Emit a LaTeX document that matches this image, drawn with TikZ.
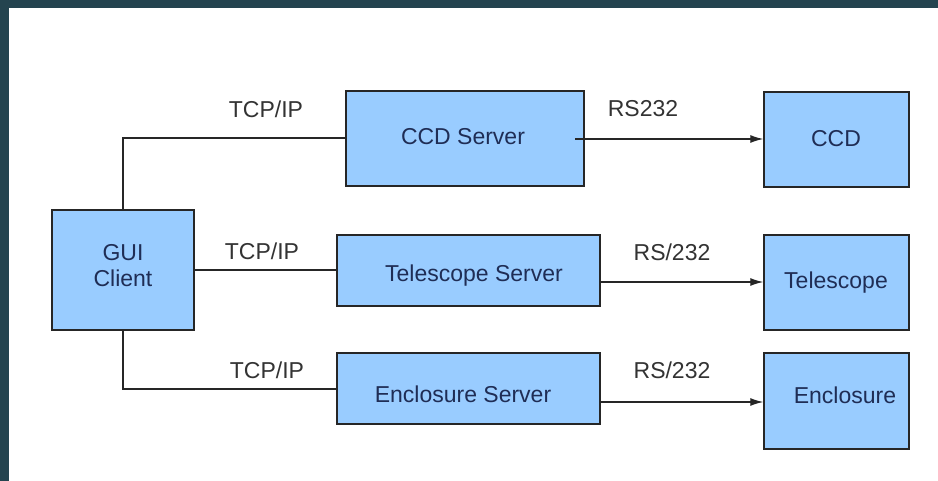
\documentclass[tikz,border=0pt]{standalone}
\usepackage{fontspec}
\setmainfont{Liberation Sans}
\usetikzlibrary{arrows.meta}
\definecolor{frame}{HTML}{24444F}
\definecolor{boxfill}{HTML}{99CCFF}
\definecolor{boxtext}{HTML}{1F2D55}
\definecolor{labtext}{HTML}{333333}
\begin{document}
\begin{tikzpicture}[x=1pt,y=-1pt,
  box/.style={draw=black!85,line width=1.4pt,fill=boxfill,inner sep=0pt},
  boxlabel/.style={text=boxtext,font=\fontsize{23}{26}\selectfont,inner sep=0pt,align=center},
  linklabel/.style={text=labtext,font=\fontsize{23}{26}\selectfont,inner sep=0pt},
  wire/.style={line width=1.3pt,draw=black!85},
  arrowwire/.style={wire,-{Latex[length=13pt,width=8pt]}}]
\useasboundingbox (0,0) rectangle (938,481);
\fill[white] (0,0) rectangle (938,481);
\fill[frame] (0,0) rectangle (938,8);
\fill[frame] (0,0) rectangle (9,481);
% boxes
\node[box,minimum width=142pt,minimum height=120pt] (gui) at (123,270) {};
\node[box,minimum width=238pt,minimum height=95pt] (ccds) at (465,138.5) {};
\node[box,minimum width=263pt,minimum height=71pt] (tels) at (468.5,270.5) {};
\node[box,minimum width=263pt,minimum height=71pt] (encs) at (468.5,388.5) {};
\node[box,minimum width=145pt,minimum height=95pt] (ccd) at (836.5,139.5) {};
\node[box,minimum width=145pt,minimum height=95pt] (tel) at (836.5,282.5) {};
\node[box,minimum width=145pt,minimum height=96pt] (enc) at (836.5,401) {};
% box texts
\node[boxlabel] (guit) at (123,266) {GUI\\Client};
\node[boxlabel] (ccdst) at (463,137) {CCD Server};
\node[boxlabel] (telst) at (474,276) {Telescope Server};
\node[boxlabel] (encst) at (463,394) {Enclosure Server};
\node[boxlabel] (ccdt) at (836,139) {CCD};
\node[boxlabel] (telt) at (836,283) {Telescope};
\node[boxlabel] (enct) at (845,395) {Enclosure};
% connectors
\coordinate (c1) at (123,138);
\coordinate (c2) at (123,389);
\draw[wire] (gui.north -| c1) -- (c1) -- (c1 -| ccds.west);
\draw[wire] (gui.east |- 0,270) -- (tels.west |- 0,270);
\draw[wire] (gui.south -| c2) -- (c2) -- (c2 -| encs.west);
\coordinate (a1) at (575,139);
\draw[arrowwire] (a1) -- (a1 -| ccd.west);
\draw[arrowwire] (tels.east |- 0,282) -- (tel.west |- 0,282);
\draw[arrowwire] (encs.east |- 0,402) -- (enc.west |- 0,402);
% link labels
\node[linklabel] (l1) at (266,109) {TCP/IP};
\node[linklabel] (l2) at (262,251) {TCP/IP};
\node[linklabel] (l3) at (267,370) {TCP/IP};
\node[linklabel] (r1) at (643,109) {RS232};
\node[linklabel] (r2) at (672,252) {RS/232};
\node[linklabel] (r3) at (672,370) {RS/232};
\end{tikzpicture}
\end{document}
